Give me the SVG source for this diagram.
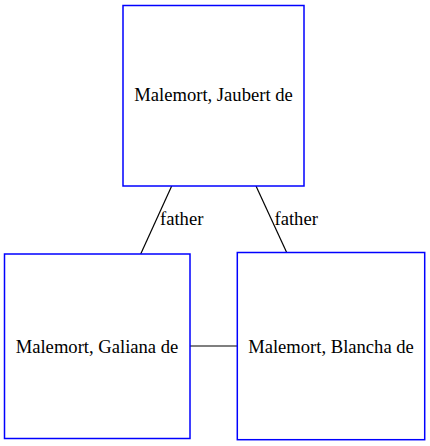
<svg xmlns="http://www.w3.org/2000/svg" width="430" height="446" viewBox="0 0 430 446">
<style>
.box{fill:#fff;stroke:#0000ff;stroke-width:1.5}
.lbl{font-family:"Liberation Serif","Times New Roman",serif;font-size:18.6px;fill:#000}
.edge{stroke:#000;stroke-width:1.2;fill:none}
</style>
<rect width="430" height="446" fill="#fff"/>
<g id="connectors">
<line class="edge" x1="171.7" y1="186" x2="140.7" y2="254"/>
<line class="edge" x1="256" y1="186" x2="286.7" y2="252.5"/>
<line class="edge" x1="190" y1="346" x2="237" y2="346"/>
<text class="lbl" x="160" y="225">father</text>
<text class="lbl" x="274.5" y="225">father</text>
</g>
<g id="jaubert">
<rect class="box" x="123" y="5.5" width="181" height="180.5"/>
<text class="lbl" x="213.5" y="101" text-anchor="middle">Malemort, Jaubert de</text>
</g>
<g id="galiana">
<rect class="box" x="4.5" y="254" width="185.5" height="184.5"/>
<text class="lbl" x="97" y="353" text-anchor="middle">Malemort, Galiana de</text>
</g>
<g id="blancha">
<rect class="box" x="237.3" y="252.5" width="187.4" height="187.2"/>
<text class="lbl" x="331" y="353" text-anchor="middle">Malemort, Blancha de</text>
</g>
</svg>
